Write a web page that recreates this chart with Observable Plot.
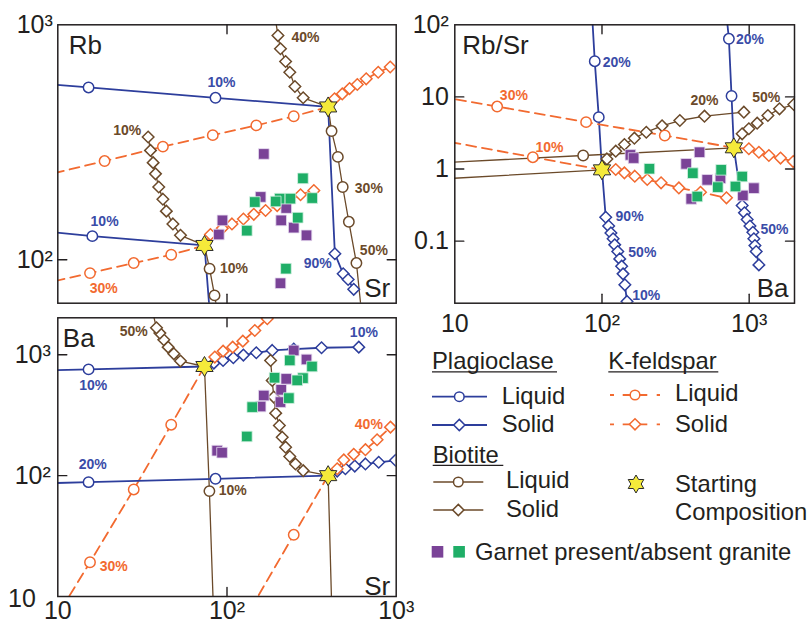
<!DOCTYPE html>
<html><head><meta charset="utf-8">
<script src="https://cdn.jsdelivr.net/npm/d3@7"></script>
<script src="https://cdn.jsdelivr.net/npm/@observablehq/plot@0.6"></script>
<style>
body{margin:0;background:#fff;}
#chart{position:relative;width:810px;height:625px;overflow:hidden;}
#chart svg{position:absolute;font-family:"Liberation Sans",Arial,sans-serif !important;background:transparent !important;color:#231F20;max-width:none !important;overflow:visible;}
</style></head><body><div id="chart"></div>
<script>
// ---------- Panel A : Rb vs Sr ----------
const rbStars = [[396, 447], [73.6, 115]];
const rbPlagLiq0 = [[85.5, 489], [15.2, 541], [8.5, 560]];
const rbPlagSol0 = [[434, 106], [486, 87.1], [520, 82.4], [561, 74.8]];
const rbBioLiq0 = [[415, 353], [452, 274], [483, 204], [525, 145], [582, 96.8], [631, 55]];
const rbBioSol0 = [[282, 489], [252, 546], [235, 628], [222, 698], [207, 791], [200, 900], [191, 1122]];
const rbKfsLiq0 = [[248, 408], [149, 373], [82.4, 339], [41.8, 303], [18.9, 263], [8.5, 229]];
const rbKfsSol0 = [[432, 484], [480, 508], [530, 535], [589, 557], [665, 589], [783, 628], [922, 661]];
const rbPlagLiq1 = [[16.0, 126], [8.5, 132]];
const rbPlagSol1 = [[79.8, 55]];
const rbBioLiq1 = [[78.9, 91.6], [84.4, 70.5], [89.7, 55]];
const rbBioSol1 = [[53.1, 127], [47.9, 142], [43.8, 161], [41.8, 181], [39.5, 204], [37.8, 232], [36.6, 259], [35.3, 292], [34.2, 333]];
const rbKfsLiq1 = [[46.8, 105], [28.1, 96.8], [15.5, 87.7], [8.5, 79.4]];
const rbKfsSol1 = [[79.8, 128], [93.8, 136], [107, 142], [125, 149], [144, 156], [169, 162], [198, 170], [232, 179], [272, 189], [326, 197]];
const rbPurple = [[165, 282], [158, 185], [224, 166], [209, 147], [248, 137], [295, 127], [94.0, 147], [89.5, 128], [207, 79.4]];
const rbGreen = [[281, 222], [319, 183], [205, 182], [237, 182], [146, 176], [194, 177], [262, 151], [131, 133], [223, 91.6]];
const rbLabels = [[92.7, 570, "10%", "plag"], [291, 881, "40%", "bio"], [25.7, 355, "10%", "bio"], [689, 200, "30%", "bio"], [738, 109, "50%", "bio"], [18.9, 146, "10%", "plag"], [344, 96.2, "90%", "plag"], [110, 91.6, "10%", "bio"], [18.7, 75.4, "30%", "kfs"]];

// ---------- Panel B : Rb/Sr vs Ba ----------
const rsStars = [[100, 0.975], [787, 1.97]];
const rsPlagLiq0 = [[95.1, 5.24], [89.3, 31.3], [85.6, 141]];
const rsPlagSol0 = [[106, 0.215], [111, 0.162], [115, 0.130], [119, 0.108], [122, 0.0889], [128, 0.0718], [132, 0.0568], [136, 0.0450], [139, 0.0352], [143, 0.0248], [148, 0.0146]];
const rsKfsLiq0 = [[33.9, 1.46], [8.5, 2.45]];
const rsKfsSol0 = [[124, 0.986], [142, 0.885], [167, 0.796], [203, 0.716], [252, 0.644], [333, 0.548], [467, 0.477], [701, 0.399]];
const rsBioLiq0 = [[8.5, 0.733]];
const rsBioSol0 = [[108, 1.38], [124, 1.77], [142, 2.19], [166, 2.68], [200, 3.24], [256, 3.97], [338, 4.71], [497, 5.41], [920, 6.15]];
const rsPlagLiq1 = [[759, 10.3], [728, 64.0], [700, 141]];
const rsPlagSol1 = [[896, 0.312], [929, 0.247], [969, 0.200], [1012, 0.162], [1059, 0.133], [1076, 0.108], [1094, 0.0869], [1116, 0.0718], [1164, 0.0469]];
const rsKfsLiq1 = [[267, 2.92], [78.0, 4.47], [19.4, 7.36], [8.5, 9.9]];
const rsKfsSol1 = [[995, 1.91], [1164, 1.71], [1361, 1.54], [1633, 1.42], [1992, 1.27]];
const rsBioLiq1 = [[74.5, 1.54], [8.5, 1.23]];
const rsBioSol1 = [[896, 3.08], [995, 3.62], [1133, 4.33], [1340, 5.52], [1607, 6.84], [2010, 7.85]];
const rsPurple = [[156, 1.57], [164, 1.42], [460, 1.71], [373, 1.18], [519, 0.708], [638, 0.746], [1076, 0.543], [906, 0.430], [404, 0.386]];
const rsGreen = [[210, 1.01], [414, 0.877], [645, 0.975], [612, 0.561], [896, 0.787], [807, 0.573], [444, 0.416]];
const rsLabels = [[126, 30.4, "20%", "plag"], [1012, 61.9, "20%", "plag"], [25.2, 10.5, "30%", "kfs"], [44.0, 2.01, "10%", "kfs"], [497, 8.93, "20%", "bio"], [1306, 9.73, "50%", "bio"], [154, 0.220, "90%", "plag"], [188, 0.0689, "50%", "plag"], [200, 0.0176, "10%", "plag"], [1486, 0.147, "50%", "plag"]];

// ---------- Panel C : Ba vs Sr ----------
const baStars = [[73.6, 800], [396, 100]];
const baPlagLiq0 = [[15.2, 757], [8.5, 741]];
const baPlagSol0 = [[83.6, 853], [94.8, 898], [109, 945], [125, 994], [149, 1039], [185, 1086], [248, 1114], [362, 1143], [601, 1157]];
const baBioLiq0 = [[78.7, 74.5], [83.1, 7.9]];
const baBioSol0 = [[53.1, 887], [48.5, 1019], [44.9, 1157], [42.3, 1331], [40.1, 1511], [38.3, 1672], [35.7, 2512]];
const baKfsLiq0 = [[46.8, 264], [28.1, 76.9], [15.5, 19.2], [10.5, 7.9]];
const baKfsSol0 = [[84.7, 957], [94.8, 1072], [108, 1157], [124, 1297], [146, 1589], [173, 1987]];
const baPlagLiq1 = [[85.5, 94.2], [15.2, 88.3], [8.5, 86.4]];
const baPlagSol1 = [[448, 109], [501, 114], [569, 120], [658, 125], [788, 129], [991, 134]];
const baBioLiq1 = [[416, 7.9]];
const baBioSol1 = [[282, 110], [254, 125], [235, 144], [222, 172], [212, 208], [204, 260], [194, 329], [189, 447], [185, 614], [181, 898]];
const baKfsLiq1 = [[248, 32.4], [138, 7.9]];
const baKfsSol1 = [[448, 114], [490, 135], [561, 150], [658, 164], [771, 198], [925, 252]];
const baPurple = [[248, 1086], [295, 915], [224, 632], [209, 513], [207, 406], [165, 460], [158, 373], [87.5, 161], [93.5, 155]];
const baGreen = [[235, 898], [318, 800], [191, 646], [281, 641], [260, 614], [232, 438], [141, 369], [131, 211]];
const baLabels = [[28.1, 1570, "50%", "bio"], [16.2, 558, "10%", "plag"], [644, 1541, "10%", "plag"], [16.1, 123, "20%", "plag"], [108, 75.4, "10%", "bio"], [21.4, 17.7, "30%", "kfs"], [689, 265, "40%", "kfs"]];

// tick values
const ticksSr = [100];
const ticksRb = [100];
const ticksBaX = [100, 1000];
const ticksRbSr = [10, 1, 0.1];
const ticksBaY = [100, 1000];

// ---------- styling ----------
const C = {plag: "#2D3E9C", kfs: "#F26A30", bio: "#6B4A2A"};
const LC = {plag: "#3A4CA8", kfs: "#F26A30", bio: "#6B4A2A"};
const W = {plag: 1.8, kfs: 1.8, bio: 1.3};
const PURPLE = "#7A4397", GREEN = "#1FAE67", INK = "#231F20";
const fmt = d => d === 0.1 ? "0.1" : d === 1 ? "1" : d === 10 ? "10" : d === 100 ? "10²" : d === 1000 ? "10³" : "";
const hexagram = {draw(ctx, size) {
  const R = Math.sqrt(size / Math.PI), r = R * 0.577;
  for (let i = 0; i < 12; i++) {
    const a = Math.PI / 6 * i - Math.PI / 2, rr = i % 2 ? r : R;
    const x = rr * Math.cos(a), y = rr * Math.sin(a);
    if (i) ctx.lineTo(x, y); else ctx.moveTo(x, y);
  }
  ctx.closePath();
}};
const tickShape = {draw(c, l) { c.moveTo(0, 0); c.lineTo(0, -l); }};
const chart = document.getElementById("chart");
const X = d => d[0], Y = d => d[1];

function panel(cfg) {
  const marks = [];
  for (const [m, ph, s, pts] of cfg.curves) {
    const o = {x: X, y: Y, stroke: C[m], strokeWidth: W[m], clip: true};
    if (m === "kfs") o.strokeDasharray = "10,6";
    marks.push(Plot.line([cfg.stars[s], ...pts], o));
  }
  for (const [m, ph, s, pts] of cfg.curves) {
    marks.push(Plot.dot(pts, {x: X, y: Y, symbol: ph === "liq" ? "circle" : "diamond2", r: 5.2,
      fill: "white", stroke: C[m], strokeWidth: 1.5, clip: true}));
  }
  marks.push(Plot.dot(cfg.purple, {x: X, y: Y, symbol: "square", r: 6, fill: PURPLE, stroke: "#E6DAF0", strokeWidth: 0.8, clip: true}));
  marks.push(Plot.dot(cfg.green, {x: X, y: Y, symbol: "square", r: 6, fill: GREEN, stroke: "#D8F2E4", strokeWidth: 0.8, clip: true}));
  marks.push(Plot.dot(cfg.stars, {x: X, y: Y, symbol: hexagram, r: 10, fill: "#F5EA3A", stroke: "#2A2A2A", strokeWidth: 1}));
  for (const k of ["plag", "kfs", "bio"]) {
    marks.push(Plot.text(cfg.labels.filter(d => d[3] === k), {x: X, y: Y, text: d => d[2], fill: LC[k], fontSize: 14, fontWeight: "bold"}));
  }
  marks.push(Plot.frame({stroke: INK, strokeWidth: 1.5}));
  const t = {stroke: INK, strokeWidth: 1.4, length: 9, anchor: "start", shape: tickShape};
  marks.push(Plot.vectorX(cfg.xTicks, {...t, x: d => d, frameAnchor: "bottom", rotate: 0}));
  marks.push(Plot.vectorX(cfg.xTicks, {...t, x: d => d, frameAnchor: "top", rotate: 180}));
  marks.push(Plot.vectorY(cfg.yTicks, {...t, y: d => d, frameAnchor: "left", rotate: 90}));
  marks.push(Plot.vectorY(cfg.yTicks, {...t, y: d => d, frameAnchor: "right", rotate: -90}));
  if (cfg.xLabels) marks.push(Plot.axisX({ticks: cfg.xLabels, tickFormat: fmt, tickSize: 0, tickPadding: cfg.xPad, fontSize: 25, label: null, anchor: "bottom"}));
  marks.push(Plot.axisY({ticks: cfg.yLabels, tickFormat: fmt, tickSize: 0, tickPadding: cfg.yPad, fontSize: 25, label: null, anchor: "left"}));
  if (cfg.yLabels2) marks.push(Plot.axisY({ticks: cfg.yLabels2, tickFormat: fmt, tickSize: 0, tickPadding: cfg.yPad2, dy: 2, fontSize: 25, label: null, anchor: "left"}));
  marks.push(Plot.text([cfg.title[0]], {frameAnchor: "top-left", textAnchor: "start", lineAnchor: "top", dx: cfg.title[1], dy: cfg.title[2], fontSize: 26, fill: INK}));
  marks.push(Plot.text([cfg.corner[0]], {frameAnchor: "bottom-right", textAnchor: "end", lineAnchor: "bottom", dx: cfg.corner[1], dy: cfg.corner[2], fontSize: 26, fill: INK}));
  const svg = Plot.plot({
    width: cfg.w, height: cfg.h,
    marginLeft: cfg.m[0], marginRight: cfg.m[1], marginTop: cfg.m[2], marginBottom: cfg.m[3],
    x: {type: "log", domain: cfg.xd, ...(cfg.xLabels ? {} : {axis: null})},
    y: {type: "log", domain: cfg.yd},
    marks
  });
  svg.style.left = cfg.left + "px";
  svg.style.top = cfg.top + "px";
  chart.appendChild(svg);
}

panel({
  left: 0, top: 0, w: 410, h: 315, m: [57.3, 14.3, 24.3, 12.3],
  xd: [10, 1000], yd: [65.3, 1000], stars: rbStars,
  curves: [["plag","liq",0,rbPlagLiq0],["plag","sol",0,rbPlagSol0],["bio","liq",0,rbBioLiq0],["bio","sol",0,rbBioSol0],["kfs","liq",0,rbKfsLiq0],["kfs","sol",0,rbKfsSol0],
           ["plag","liq",1,rbPlagLiq1],["plag","sol",1,rbPlagSol1],["bio","liq",1,rbBioLiq1],["bio","sol",1,rbBioSol1],["kfs","liq",1,rbKfsLiq1],["kfs","sol",1,rbKfsSol1]],
  purple: rbPurple, green: rbGreen, labels: rbLabels,
  xTicks: ticksSr, yTicks: ticksRb, xLabels: null, yLabels: [100, 1000], yPad: 5,
  title: ["Rb", 11, 10.7], corner: ["Sr", -6, -6]
});
panel({
  left: 400, top: 0, w: 410, h: 340, m: [54.3, 16, 24.3, 37.3],
  xd: [10, 2032], yd: [0.0138, 100], stars: rsStars,
  curves: [["plag","liq",0,rsPlagLiq0],["plag","sol",0,rsPlagSol0],["kfs","liq",0,rsKfsLiq0],["kfs","sol",0,rsKfsSol0],["bio","liq",0,rsBioLiq0],["bio","sol",0,rsBioSol0],
           ["plag","liq",1,rsPlagLiq1],["plag","sol",1,rsPlagSol1],["kfs","liq",1,rsKfsLiq1],["kfs","sol",1,rsKfsSol1],["bio","liq",1,rsBioLiq1],["bio","sol",1,rsBioSol1]],
  purple: rsPurple, green: rsGreen, labels: rsLabels,
  xTicks: ticksBaX, yTicks: ticksRbSr, xLabels: [10, 100, 1000], xPad: 11, yLabels: [100, 10, 1, 0.1], yPad: 6,
  title: ["Rb/Sr", 7.5, 10.7], corner: ["Ba", -6, -6]
});
panel({
  left: 0, top: 305, w: 420, h: 320, m: [57.3, 24.3, 12.3, 29],
  xd: [10, 1000], yd: [10, 2023], stars: baStars,
  curves: [["plag","liq",0,baPlagLiq0],["plag","sol",0,baPlagSol0],["bio","liq",0,baBioLiq0],["bio","sol",0,baBioSol0],["kfs","liq",0,baKfsLiq0],["kfs","sol",0,baKfsSol0],
           ["plag","liq",1,baPlagLiq1],["plag","sol",1,baPlagSol1],["bio","liq",1,baBioLiq1],["bio","sol",1,baBioSol1],["kfs","liq",1,baKfsLiq1],["kfs","sol",1,baKfsSol1]],
  purple: baPurple, green: baGreen, labels: baLabels,
  xTicks: ticksSr, yTicks: ticksBaY, xLabels: [10, 100, 1000], xPad: 5, yLabels: [100, 1000], yPad: 7, yLabels2: [10], yPad2: 22,
  title: ["Ba", 5, 10.7], corner: ["Sr", -6, -1.5]
});

// ---------- Legend ----------
const diamond = (x, y) => `<path d="M${x},${y-5.6}L${x+5.6},${y}L${x},${y+5.6}L${x-5.6},${y}Z" fill="white" stroke-width="1.5"/>`;
const star = (x, y, R) => {
  let p = "";
  for (let i = 0; i < 12; i++) { const a = Math.PI / 6 * i - Math.PI / 2, rr = i % 2 ? R * 0.577 : R; p += (i ? "L" : "M") + (x + rr * Math.cos(a)).toFixed(2) + "," + (y + rr * Math.sin(a)).toFixed(2); }
  return `<path d="${p}Z" fill="#F5EA3A" stroke="#2A2A2A" stroke-width="1"/>`;
};
const legend = `<svg width="810" height="625" style="left:0;top:0" font-size="23.8" fill="${INK}">
<text x="432" y="369">Plagioclase</text><line x1="432" x2="557" y1="371.8" y2="371.8" stroke="${INK}" stroke-width="1.3"/>
<g stroke="${C.plag}"><line x1="432" x2="487" y1="396.7" y2="396.7" stroke-width="1.8"/><circle cx="459.3" cy="396.7" r="4.8" fill="white" stroke-width="1.5"/>
<line x1="432" x2="487" y1="425" y2="425" stroke-width="1.8"/>${diamond(459.3, 425)}</g>
<text x="501.7" y="404">Liquid</text><text x="501.7" y="431.7">Solid</text>
<text x="608.3" y="369">K-feldspar</text><line x1="608.3" x2="718.3" y1="371.8" y2="371.8" stroke="${INK}" stroke-width="1.3"/>
<g stroke="${C.kfs}" stroke-width="1.8"><path d="M610,395H614M622.7,395H630M640,395H647.3M656.7,395H660" fill="none"/><circle cx="635" cy="395" r="4.8" fill="white" stroke-width="1.5"/>
<path d="M610,424.3H614M622.7,424.3H630M640,424.3H647.3M656.7,424.3H660" fill="none"/>${diamond(635, 424.3)}</g>
<text x="675" y="401">Liquid</text><text x="675" y="431.7">Solid</text>
<text x="432.7" y="462.7">Biotite</text><line x1="432.7" x2="503.3" y1="465.3" y2="465.3" stroke="${INK}" stroke-width="1.3"/>
<g stroke="${C.bio}"><line x1="433.3" x2="483.3" y1="482" y2="482" stroke-width="1.3"/><circle cx="458.3" cy="482" r="4.8" fill="white" stroke-width="1.5"/>
<line x1="433.3" x2="483.3" y1="510" y2="510" stroke-width="1.3"/>${diamond(458.3, 510)}</g>
<text x="506" y="488.3">Liquid</text><text x="506" y="517.3">Solid</text>
${star(636, 484, 9)}
<text x="675" y="491.7">Starting</text><text x="675" y="520">Composition</text>
<rect x="431.7" y="546" width="11.6" height="11.6" fill="${PURPLE}"/><rect x="453.3" y="546" width="11.6" height="11.6" fill="${GREEN}"/>
<text x="475" y="560">Garnet present/absent granite</text>
</svg>`;
chart.insertAdjacentHTML("beforeend", legend);
</script></body></html>
